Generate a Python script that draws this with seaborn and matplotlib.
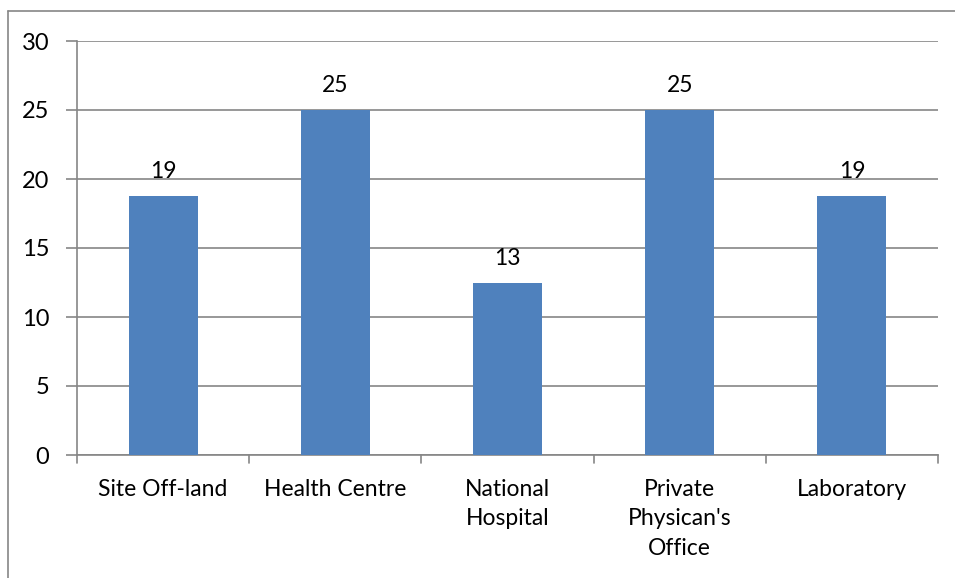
import matplotlib
matplotlib.use("Agg")
import matplotlib.pyplot as plt
from matplotlib.lines import Line2D
import seaborn as sns
import pandas as pd

categories = ["Site Off-land", "Health Centre", "National\nHospital",
              "Private\nPhysican's\nOffice", "Laboratory"]
values = [18.75, 25.0, 12.5, 25.0, 18.75]
y_ticks = [0, 5, 10, 15, 20, 25, 30]

sns.set_theme(style="white")
plt.rcParams["font.family"] = ["Lato", "DejaVu Sans"]

W, H = 955, 578
FS = 16.5
fig = plt.figure(figsize=(W / 100, H / 100), dpi=100)
ax = fig.add_axes([77 / W, 1 - 455 / H, (938 - 77) / W, (455 - 41) / H])

df = pd.DataFrame({"category": categories, "value": values})
sns.barplot(data=df, x="category", y="value", color="#4F81BD", saturation=1,
            width=0.40, linewidth=0, edgecolor="none", ax=ax, zorder=3)

grid_c = "#868686"
ax.set_ylim(0, 30)
ax.set_xlim(-0.5, len(categories) - 0.5)
ax.set_yticks(y_ticks)
ax.set_yticklabels([str(t) for t in y_ticks], fontsize=17, color="black")
ax.yaxis.grid(True, color=grid_c, linewidth=1.2, zorder=0)
ax.set_axisbelow(True)

ax.set_xticks(range(len(categories)))
ax.set_xticklabels(categories, fontsize=FS, color="black", linespacing=1.5)
ax.tick_params(axis="x", length=0, pad=17)
ax.tick_params(axis="y", length=8, width=1.2, color=grid_c, direction="out", pad=12, left=True)
ax.set_xlabel("")
ax.set_ylabel("")

for side in ["top", "right"]:
    ax.spines[side].set_visible(False)
for side in ["left", "bottom"]:
    ax.spines[side].set_color(grid_c)
    ax.spines[side].set_linewidth(1.2)

# category separator ticks on the x axis
for b in [i - 0.5 for i in range(len(categories) + 1)]:
    ax.plot([b, b], [0, -0.6], color=grid_c, linewidth=1.2, clip_on=False, zorder=4)

# value labels above bars
for i, v in enumerate(values):
    ax.annotate(f"{int(v + 0.5)}", (i, v), xytext=(0, 10), textcoords="offset points",
                ha="center", va="bottom", fontsize=FS, color="black")

# outer chart frame (left and top edges)
fig.add_artist(Line2D([8 / W, 8 / W], [0, 1 - 11 / H], transform=fig.transFigure,
                      color=grid_c, linewidth=1.2))
fig.add_artist(Line2D([8 / W, 1], [1 - 11 / H, 1 - 11 / H], transform=fig.transFigure,
                      color=grid_c, linewidth=1.2))

fig.savefig("out.png", dpi=100, facecolor="white")
